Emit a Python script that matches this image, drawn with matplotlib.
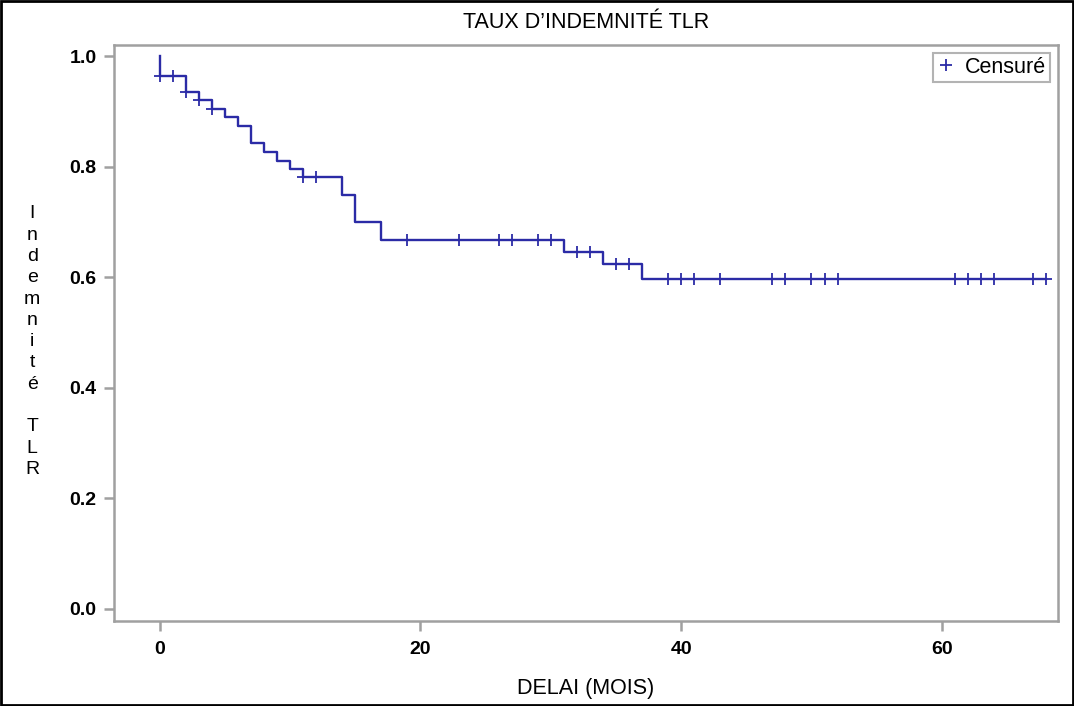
import matplotlib
matplotlib.use("Agg")
import matplotlib.pyplot as plt
import numpy as np
from matplotlib.patches import Rectangle

plt.rcParams['font.family'] = ['Liberation Sans', 'DejaVu Sans']

# Kaplan-Meier step function (time of drop, survival after drop)
event_times = [0, 2, 3, 4, 5, 6, 7, 8, 9, 10, 11, 14, 15, 17, 31, 34, 37]
event_surv = [0.964, 0.935, 0.920, 0.905, 0.889, 0.873, 0.842, 0.826, 0.811,
              0.796, 0.781, 0.749, 0.700, 0.667, 0.646, 0.623, 0.597]
start_surv = 1.0
end_time = 68

# Censored observation times
censor_times = [0, 1, 2, 3, 4, 11, 12, 19, 23, 26, 27, 29, 30, 32, 33, 35, 36,
                39, 40, 41, 43, 47, 48, 50, 51, 52, 61, 62, 63, 64, 67, 68]

x_ticks = [0, 20, 40, 60]
y_ticks = [0.0, 0.2, 0.4, 0.6, 0.8, 1.0]

color = '#2B2BA6'
gray = '#A0A0A0'

fig = plt.figure(figsize=(10.74, 7.06), dpi=100)
ax = fig.add_axes([0.1061, 0.1204, 0.8789, 0.8159])

xs = [0] + event_times + [end_time]
ys = [start_surv] + event_surv + [event_surv[-1]]
ax.step(xs, ys, where='post', color=color, lw=1.7, zorder=3)

def surv_at(t):
    s = start_surv
    for et, es in zip(event_times, event_surv):
        if et <= t:
            s = es
    return s

cy = [surv_at(t) for t in censor_times]
ax.plot(censor_times, cy, linestyle='none', marker='+', markersize=8,
        markeredgewidth=1.3, color=color, zorder=4, label='Censuré')

ax.set_xlim(-3.5, 68.9)
ax.set_ylim(-0.022, 1.02)
ax.set_xticks(x_ticks)
ax.set_xticklabels([str(v) for v in x_ticks])
ax.set_yticks(y_ticks)
ax.set_yticklabels([f"{v:.1f}" for v in y_ticks])
for s in ax.spines.values():
    s.set_color(gray)
    s.set_linewidth(1.8)
ax.tick_params(axis='both', direction='out', length=7.5, width=1.8, color=gray,
               labelsize=14, labelcolor='black', pad=5)
ax.tick_params(axis='x', pad=7)
for lab in ax.get_xticklabels() + ax.get_yticklabels():
    lab.set_fontweight('bold')

ax.set_title("TAUX D\u2019INDEMNITÉ TLR", fontsize=15.5, pad=12)
ax.set_xlabel("DELAI (MOIS)", fontsize=15.5, labelpad=14)

ylab = "\n".join(list("Indemnité")) + "\n\n" + "\n".join(list("TLR"))
fig.text(0.030, 0.709, ylab, ha='center', va='top', fontsize=14,
         linespacing=1.33)

leg = ax.legend(loc='upper right', fontsize=15.5, frameon=True, fancybox=False,
                handletextpad=0.5, borderpad=0.2, handlelength=0.8,
                borderaxespad=0.35)
leg.get_frame().set_edgecolor(gray)
leg.get_frame().set_linewidth(1.5)

fig.patches.append(Rectangle((0.001, 0.001), 0.998, 0.998, transform=fig.transFigure,
                             fill=False, edgecolor='black', linewidth=2))

fig.savefig("out.png", dpi=100)
